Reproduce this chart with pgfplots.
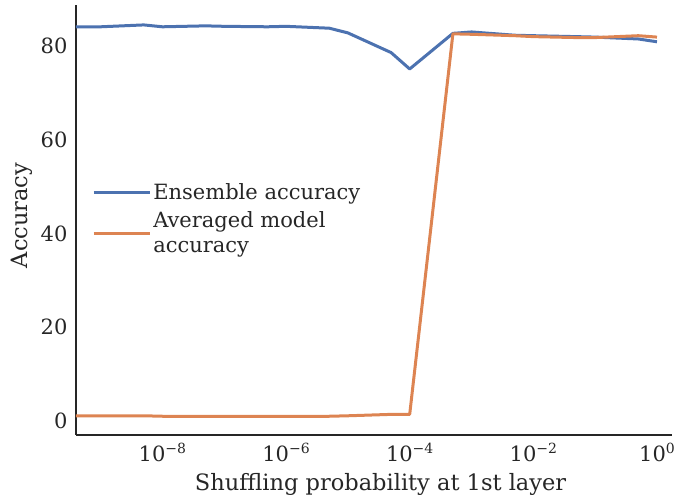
\documentclass[border=0pt]{standalone}
\usepackage{pgfplots}
\pgfplotsset{compat=1.18}
\usepackage{fontspec}
\setmainfont{DejaVu Serif}
\definecolor{sbblue}{HTML}{4C72B0}
\definecolor{sborange}{HTML}{DD8452}
\definecolor{txt}{HTML}{262626}
\newcommand\tl[1]{10\raisebox{8pt}{\fontsize{14}{14}\selectfont #1}}
\begin{document}
\begin{tikzpicture}
\begin{axis}[
  scale only axis, width=596pt, height=430pt,
  xmode=log, xmin=4e-10, xmax=1.75, ymin=-3, ymax=88.75,
  axis lines=left, axis line style={-, line width=1.1pt, color=txt},
  major tick length=0pt, minor tick length=0pt,
  xtick={1e-8,1e-6,1e-4,1e-2,1},
  xticklabels={\tl{−8},\tl{−6},\tl{−4},\tl{−2},\tl{0}},
  ytick={0,20,40,60,80},
  /pgf/number format/assume math mode=true,
  ticklabel style={font=\fontsize{21}{25}\selectfont, text=txt},
  yticklabel style={xshift=-5pt},
  xticklabel style={yshift=-5pt},
  label style={font=\fontsize{22.5}{27}\selectfont, text=txt},
  xlabel={Shuffling probability at 1st layer},
  ylabel={Accuracy},
  xlabel style={at={(axis description cs:0.511,-0.114)}, anchor=center},
  ylabel style={at={(axis description cs:-0.0906,0.5105)}, anchor=center},
  legend style={draw=none, fill=none, at={(0.022,0.595)}, anchor=north west,
    font=\fontsize{21}{25}\selectfont, text=txt, cells={align=left},
    row sep=7pt},
  legend cell align=left,
  legend image code/.code={\draw[#1] (0pt,0pt) -- (42pt,0pt); \path (0pt,0pt) -- (56pt,0pt);},
  every axis plot/.append style={line width=3pt, line join=round},
]
\addplot[sbblue] coordinates {
(4e-10,84.1) (1e-9,84.1) (5e-9,84.5) (1e-8,84.1) (5e-8,84.3) (1e-7,84.2)
(5e-7,84.1) (1e-6,84.2) (5e-6,83.8) (1e-5,82.8) (5e-5,78.6) (1e-4,75.1)
(5e-4,82.7) (1e-3,83.0) (5e-3,82.3) (1e-2,82.2) (5e-2,82.0) (1e-1,81.9)
(5e-1,81.5) (1,80.9)};
\addlegendentry{Ensemble accuracy}
\addplot[sborange] coordinates {
(4e-10,1.1) (1e-9,1.1) (5e-9,1.1) (1e-8,1.0) (5e-8,1.0) (1e-7,1.0)
(5e-7,1.0) (1e-6,1.0) (5e-6,1.0) (1e-5,1.1) (5e-5,1.4) (1e-4,1.4)
(5e-4,82.6) (1e-3,82.5) (5e-3,82.2) (1e-2,82.0) (5e-2,81.8) (1e-1,81.8)
(5e-1,82.2) (1,81.9)};
\addlegendentry{Averaged model\\accuracy}
\end{axis}
\pgfresetboundingbox
\path ([xshift=-76pt,yshift=-65pt]current axis.south west) rectangle ([xshift=2pt,yshift=5pt]current axis.north east);
\end{tikzpicture}
\end{document}
